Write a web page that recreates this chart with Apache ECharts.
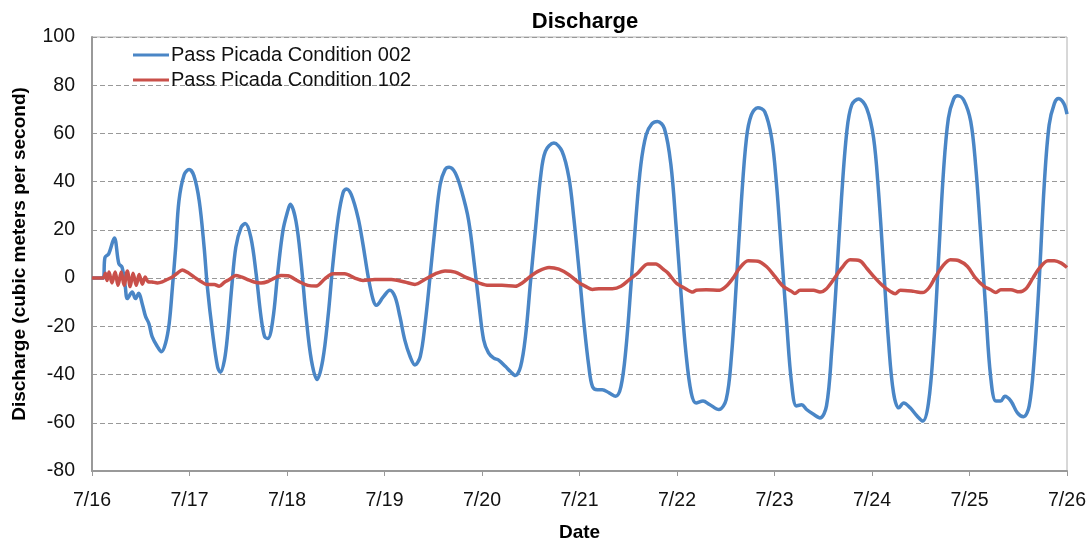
<!DOCTYPE html>
<html>
<head>
<meta charset="utf-8">
<script src="https://cdn.jsdelivr.net/npm/echarts@6/dist/echarts.min.js"></script>
<style>html,body{margin:0;padding:0;background:#fff}#c{width:1089px;height:547px}</style>
</head>
<body>
<div id="c"></div>
<script>
// x = hours since 7/16 00:00
const dateLabels = ['7/16','7/17','7/18','7/19','7/20','7/21','7/22','7/23','7/24','7/25','7/26'];
const yTicks = [-80,-60,-40,-20,0,20,40,60,80,100];
const seriesNames = ['Pass Picada Condition 002','Pass Picada Condition 102'];

const cond002 = [
[0,0],[2.7,0],[3.2,8.6],[4.1,10],[5.5,16.6],[6.6,6],[7.4,4.5],[8.2,-3.7],[8.7,-8.5],[9.9,-5.8],
[10.7,-8.5],[11.5,-6.3],[12.4,-10.9],[13.2,-16],[14.0,-18.8],[14.8,-24.3],[16.1,-28.4],[17.1,-30.5],[18.1,-27],[19.0,-18.8],
[19.8,-3.7],[20.6,12.8],[21.4,32],[22.7,43],[23.9,45],[25.1,42.4],[26.4,32],[27.6,12.8],[28.4,-3.7],[29.7,-23],
[30.9,-36.7],[31.6,-39],[32.6,-34],[33.4,-23],[34.4,-3.7],[35.4,12.8],[36.7,21],[37.7,22.6],[39.1,16.9],[40.4,1.8],
[41.6,-16],[42.5,-24.3],[43.3,-25],[44.5,-17.4],[45.7,1.8],[47.0,19.7],[48.2,28],[48.8,30.6],[50.2,23.7],[51.5,5.9],
[52.7,-16],[54.0,-34],[55.4,-42],[56.8,-34],[58.1,-16],[59.3,5.9],[60.6,25],[61.8,35.4],[62.6,37],[63.8,34.7],
[65.5,25],[66.7,14],[68.0,0.4],[69.2,-9],[70.0,-11.3],[71.7,-7.8],[73.3,-5],[74.6,-7.8],[75.8,-16],[77.0,-25.7],
[78.3,-32.5],[79.5,-36],[80.8,-32.5],[82.0,-18.8],[83.2,0.4],[84.5,22],[85.7,38.8],[86.9,45],[87.9,46],[89.4,43.7],
[91.0,36],[92.7,24],[94.3,3],[95.2,-10],[96.4,-25.6],[97.6,-31],[98.9,-33.2],[100.1,-34],[101.8,-36.7],[103.0,-38.7],
[104.2,-40.4],[105.5,-36.7],[106.7,-24.3],[107.9,-2.3],[109.2,21],[110.4,41.6],[111.6,52.6],[113.7,56],[115.7,52.6],[117.4,41.6],
[118.6,25],[119.9,3],[121.1,-18.8],[122.3,-36.7],[123.2,-45],[124.4,-46.3],[125.6,-46.3],[127.3,-47.6],[128.9,-49],[130.2,-45],
[131.4,-29.8],[132.7,-2.3],[133.9,25],[135.1,47],[136.4,59.4],[137.8,64],[139.2,65],[140.9,62],[142.5,47],[143.8,21],
[145.0,-6.5],[146.2,-31],[147.5,-47.6],[148.7,-51.8],[150.4,-51],[152.0,-52.4],[154.3,-54.5],[156.1,-50.4],[157.4,-32.5],[158.6,-2.3],
[159.8,30.6],[161.1,58],[162.3,67.7],[163.9,70.7],[165.6,69],[167.3,58],[168.5,38.8],[169.7,11.4],[171.0,-18.8],[172.2,-43.5],
[173.4,-53],[174.7,-52.5],[175.9,-54.5],[177.6,-56.5],[179.2,-58],[180.8,-53],[182.1,-29.8],[183.3,0.4],[184.5,33.4],[185.8,60.8],
[187.0,71.8],[188.7,74.3],[190.7,70.4],[192.4,58],[193.6,36],[194.8,5.9],[196.1,-27],[197.3,-47.6],[198.6,-53.8],[199.8,-51.8],
[201.4,-53.8],[203.1,-57.2],[204.5,-59.3],[205.9,-51.8],[207.2,-27],[208.4,8.6],[209.6,44.3],[210.8,66.3],[212.1,74.3],[213.1,75.6],
[214.6,73.8],[216.3,65],[217.5,47],[218.7,19.6],[220.0,-13.3],[221.2,-40.8],[222.5,-51],[223.7,-51],[224.7,-49],[226.2,-51],
[227.8,-55.9],[229.3,-57.5],[230.7,-53],[231.9,-34],[233.2,0.4],[234.4,38.8],[235.6,63.5],[236.9,72.5],[237.9,74.5],[239.2,72.5],
[240,68]
];

const cond102 = [
[0,0],[2.7,0],[3.3,2],[3.7,-1],[4.2,2.5],[4.9,-2],[5.7,2.5],[6.4,-3],[7.2,2.5],[7.9,-3],
[8.7,3],[9.4,-3.5],[10.1,2],[10.9,-3],[11.6,1.5],[12.4,-2.5],[13.1,0.5],[13.8,-1.5],[14.8,-1.6],[16.1,-2],
[17.3,-1.6],[18.5,-0.6],[19.8,0.5],[21.0,2],[22.2,3.4],[23.5,2.4],[25.1,0.5],[26.8,-1.4],[28.4,-2.7],[30.1,-2.6],
[31.3,-3.4],[32.6,-1.7],[33.8,-0.6],[35.4,1.1],[36.7,0.5],[38.3,-0.6],[39.9,-1.6],[41.6,-2],[43.3,-1.4],[44.9,0],
[46.5,1.1],[48.2,1.0],[50.7,-1.2],[53.1,-3],[55.2,-3.3],[57.3,-0.3],[59.3,1.8],[62.2,1.8],[64.7,0],[66.7,-1],
[69.6,-0.6],[73.7,-0.6],[77.0,-1.6],[79.5,-2.6],[82.0,-0.5],[84.5,1.8],[86.9,3],[89.4,2.5],[91.9,0.4],[94.3,-1.2],
[95.2,-2],[97.6,-3],[100.9,-3],[104.2,-3.4],[105.9,-2],[107.9,0.7],[110.0,3],[112.5,4.4],[114.9,3.7],[117.4,1.4],
[119.9,-2],[121.5,-3.4],[123.2,-4.7],[124.8,-4.4],[128.1,-4.4],[130.2,-3.4],[132.2,-0.7],[134.3,2],[136.8,5.9],[138.8,5.9],
[140.5,3.8],[141.7,2.2],[143.8,-2],[145.8,-4.1],[147.9,-5.8],[148.7,-5],[151.2,-4.8],[154.5,-5],[156.1,-3.4],[157.8,0],
[159.4,4.1],[161.5,7.2],[163.9,7],[166.0,4.8],[168.1,0.7],[170.1,-3.4],[172.2,-5.5],[173.0,-6.4],[174.3,-5],[177.6,-5],
[179.2,-5.8],[180.8,-4.4],[182.5,-0.7],[184.5,4.1],[186.6,7.6],[189.0,7.2],[190.7,4.1],[192.8,0],[194.8,-3.4],[196.5,-5.5],
[197.7,-6.5],[199.0,-5],[202.3,-5.5],[204.4,-6],[206.0,-4.1],[207.7,0.7],[209.3,4.8],[211.3,7.6],[213.4,7.2],[215.5,4.8],
[217.5,0],[219.6,-3.4],[221.2,-4.8],[222.5,-6],[223.7,-4.8],[226.2,-4.8],[228.2,-5.7],[229.9,-4.4],[231.6,0],[233.2,4.1],
[235.3,7.2],[236.9,7.2],[238.6,6.2],[240,4.4]
];

const chart = echarts.init(document.getElementById('c'), null, {renderer:'canvas'});
const font = 'Liberation Sans, Arial, sans-serif';
chart.setOption({
  animation:false,
  backgroundColor:'#fff',
  textStyle:{fontFamily:font},
  title:{text:'Discharge', left:580, top:6, textAlign:'center',
    textStyle:{fontSize:22, fontWeight:'bold', color:'#000', fontFamily:font}},
  legend:{
    orient:'vertical', left:128, top:40, itemWidth:36, itemHeight:3, itemGap:5,
    icon:'rect',
    textStyle:{fontSize:20, color:'#111', fontFamily:font, padding:[0,0,0,-3]},
    data:seriesNames
  },
  grid:{left:92, right:22, top:37, bottom:72, show:true, borderColor:'#b0b0b0', borderWidth:1},
  xAxis:{
    type:'value', min:0, max:240, interval:24,
    name:'Date', nameLocation:'middle', nameGap:52,
    nameTextStyle:{fontSize:19, fontWeight:'bold', color:'#000', fontFamily:font},
    axisLine:{show:true, onZero:false, lineStyle:{color:'#999', width:2}},
    axisTick:{show:true, length:5, lineStyle:{color:'#999'}},
    axisLabel:{fontSize:19.5, color:'#111', margin:20, fontFamily:font,
      formatter:v=>dateLabels[Math.round(v/24)]},
    splitLine:{show:false}
  },
  yAxis:{
    type:'value', min:yTicks[0], max:yTicks[yTicks.length-1], interval:20,
    name:'Discharge (cubic meters per second)', nameLocation:'middle', nameGap:63,
    nameTextStyle:{fontSize:19, fontWeight:'bold', color:'#000', fontFamily:font},
    axisLine:{show:true, lineStyle:{color:'#999', width:2}},
    axisTick:{show:false},
    axisLabel:{fontSize:19.5, color:'#111', margin:17, fontFamily:font},
    splitLine:{show:true, lineStyle:{color:'#999', type:[5,3], width:1}}
  },
  series:[
    {name:seriesNames[0], type:'line', data:cond002, showSymbol:false, smooth:0.35,
      lineStyle:{color:'#4A86C6', width:3.5}, itemStyle:{color:'#4A86C6'}},
    {name:seriesNames[1], type:'line', data:cond102, showSymbol:false, smooth:0.3,
      lineStyle:{color:'#C9504A', width:3.5}, itemStyle:{color:'#C9504A'}}
  ]
});
</script>
</body>
</html>
